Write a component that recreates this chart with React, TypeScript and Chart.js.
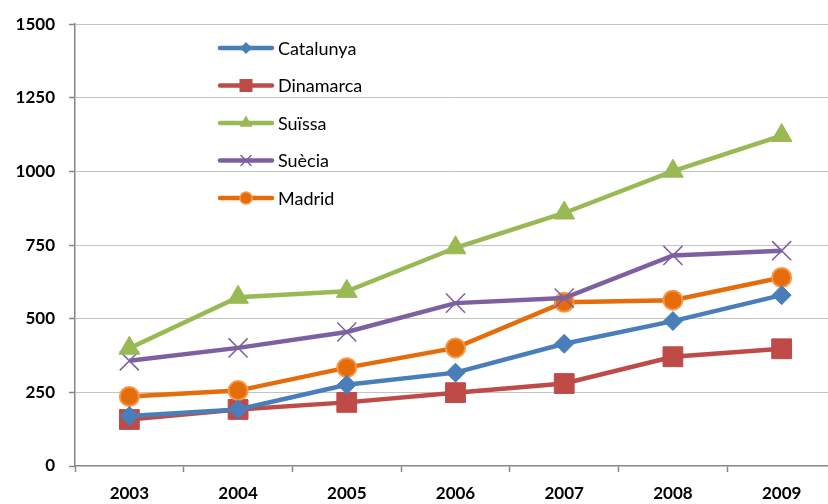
import React, { useEffect, useRef } from "react";
import { Chart, registerables } from "chart.js";

Chart.register(...registerables);

const years = ["2003", "2004", "2005", "2006", "2007", "2008", "2009"];
const catalunya = [170, 192, 276, 317, 415, 492, 580];
const dinamarca = [158, 192, 216, 249, 280, 371, 398];
const suissa = [400, 573, 593, 741, 859, 1001, 1122];
const suecia = [357, 401, 455, 553, 570, 715, 731];
const madrid = [236, 256, 334, 401, 556, 563, 640];
const yTicks = [0, 250, 500, 750, 1000, 1250, 1500];

const FONT = "Lato, 'Open Sans', sans-serif";
const AXIS = "#868686";

type LegendItem = { label: string; color: string; shape: string; fill: string; border: string };

function drawMarker(ctx: CanvasRenderingContext2D, shape: string, x: number, y: number, item: LegendItem) {
  ctx.save();
  ctx.fillStyle = item.fill;
  ctx.strokeStyle = item.border;
  ctx.beginPath();
  if (shape === "diamond") {
    const r = 6;
    ctx.moveTo(x, y - r);
    ctx.lineTo(x + r, y);
    ctx.lineTo(x, y + r);
    ctx.lineTo(x - r, y);
    ctx.closePath();
    ctx.fill();
  } else if (shape === "square") {
    const h = 6.5;
    ctx.rect(x - h, y - h, 2 * h, 2 * h);
    ctx.fill();
  } else if (shape === "triangle") {
    const r = 7.5;
    ctx.moveTo(x, y - r);
    ctx.lineTo(x + r * 0.87, y + r * 0.5);
    ctx.lineTo(x - r * 0.87, y + r * 0.5);
    ctx.closePath();
    ctx.fill();
  } else if (shape === "cross") {
    const r = 5;
    ctx.lineWidth = 1.5;
    ctx.moveTo(x - r, y - r);
    ctx.lineTo(x + r, y + r);
    ctx.moveTo(x + r, y - r);
    ctx.lineTo(x - r, y + r);
    ctx.stroke();
  } else if (shape === "circle") {
    ctx.arc(x, y, 6, 0, Math.PI * 2);
    ctx.fill();
    ctx.lineWidth = 1.5;
    ctx.stroke();
  }
  ctx.restore();
}

const legendItems: LegendItem[] = [
  { label: "Catalunya", color: "#4A7EBB", shape: "diamond", fill: "#4A7EBB", border: "#4A7EBB" },
  { label: "Dinamarca", color: "#BE4B48", shape: "square", fill: "#BE4B48", border: "#BE4B48" },
  { label: "Suïssa", color: "#98B954", shape: "triangle", fill: "#98B954", border: "#98B954" },
  { label: "Suècia", color: "#7D60A0", shape: "cross", fill: "#7D60A0", border: "#7D60A0" },
  { label: "Madrid", color: "#E46C0A", shape: "circle", fill: "#E46C0A", border: "#F79646" },
];

const insideLegend = {
  id: "insideLegend",
  afterDatasetsDraw(chart: any) {
    const ctx: CanvasRenderingContext2D = chart.ctx;
    const x0 = 220;
    const x1 = 272;
    const top = 48;
    const step = 37.5;
    ctx.save();
    legendItems.forEach((item, i) => {
      const y = top + i * step;
      ctx.strokeStyle = item.color;
      ctx.lineWidth = 4.5;
      ctx.lineCap = "round";
      ctx.beginPath();
      ctx.moveTo(x0, y);
      ctx.lineTo(x1, y);
      ctx.stroke();
      drawMarker(ctx, item.shape, (x0 + x1) / 2, y, item);
      ctx.fillStyle = "#000000";
      ctx.font = `18px ${FONT}`;
      ctx.textBaseline = "middle";
      ctx.textAlign = "left";
      ctx.fillText(item.label, x1 + 6, y + 1);
    });
    ctx.restore();
  },
};

// The plot area runs a little past the visible frame on the right.
const CANVAS_W = 836;
const VIEW_W = 828;
const VIEW_H = 504;

export default function App() {
  const ref = useRef<HTMLCanvasElement | null>(null);

  useEffect(() => {
    document.body.style.margin = "0";
    if (!ref.current) return;
    const line = (label: string, data: number[], color: string, style: string, radius: number, extra: any = {}) => ({
      label,
      data,
      borderColor: color,
      backgroundColor: color,
      pointBackgroundColor: color,
      pointBorderColor: color,
      borderWidth: 4.5,
      pointStyle: style,
      pointRadius: radius,
      pointBorderWidth: 1,
      tension: 0,
      clip: false,
      ...extra,
    });
    const chart = new Chart(ref.current, {
      type: "line",
      data: {
        labels: years,
        datasets: [
          line("Suïssa", suissa, "#98B954", "triangle", 12),
          line("Suècia", suecia, "#7D60A0", "crossRot", 13.5, { pointBorderWidth: 1.5 }),
          line("Catalunya", catalunya, "#4A7EBB", "rectRot", 9.5),
          line("Madrid", madrid, "#E46C0A", "circle", 9.5, { pointBorderColor: "#F79646", pointBorderWidth: 2 }),
          line("Dinamarca", dinamarca, "#BE4B48", "rect", 14),
        ],
      },
      options: {
        animation: false,
        responsive: false,
        maintainAspectRatio: false,
        layout: { autoPadding: false, padding: { top: 21, right: 0, left: 0, bottom: 0 } },
        plugins: {
          legend: { display: false },
          tooltip: { enabled: false },
        },
        scales: {
          x: {
            type: "category",
            offset: true,
            afterFit: (s: any) => {
              s.height = 38;
              s.paddingLeft = 0;
              s.paddingRight = 0;
            },
            grid: {
              offset: true,
              drawOnChartArea: false,
              drawTicks: true,
              tickLength: 6,
              tickColor: AXIS,
              tickWidth: 1.5,
            },
            border: { color: AXIS, width: 1.5 },
            ticks: {
              color: "#000000",
              font: { family: FONT, size: 17, weight: "bold" },
              padding: 11,
              maxRotation: 0,
            },
          },
          y: {
            min: 0,
            max: 1500,
            afterFit: (s: any) => {
              s.width = 75;
            },
            afterBuildTicks: (s: any) => {
              s.ticks = yTicks.map((v) => ({ value: v }));
            },
            grid: {
              color: (c: any) => (c.tick && c.tick.value === 0 ? "rgba(0,0,0,0)" : "#C4C4C4"),
              lineWidth: 1,
              borderDash: [2, 2],
              tickBorderDash: [],
              tickLength: 6,
              tickColor: AXIS,
              tickWidth: 1.5,
            },
            border: { color: AXIS, width: 1.5, dash: [] },
            ticks: {
              color: "#000000",
              font: { family: FONT, size: 17, weight: "bold" },
              padding: 14,
              callback: (v: any) => String(v),
            },
          },
        },
      },
      plugins: [insideLegend],
    });
    return () => chart.destroy();
  }, []);

  return (
    <div style={{ position: "fixed", left: 0, top: 0, width: VIEW_W, height: VIEW_H, overflow: "hidden", background: "#ffffff" }}>
      <canvas ref={ref} width={CANVAS_W} height={VIEW_H} style={{ width: CANVAS_W, height: VIEW_H, display: "block" }} />
    </div>
  );
}
